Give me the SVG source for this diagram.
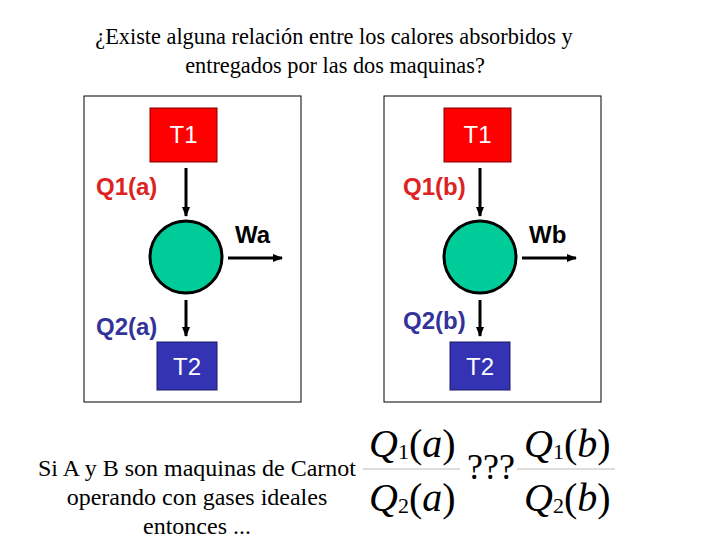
<svg xmlns="http://www.w3.org/2000/svg" width="720" height="540" viewBox="0 0 720 540">
<defs>
<marker id="ah" markerWidth="10" markerHeight="8" refX="9" refY="4" orient="auto" markerUnits="userSpaceOnUse">
<path d="M0,0 L10,4 L0,8 Z" fill="#000"/>
</marker>
<style>
.frame{fill:#fff;stroke:#000;stroke-width:1}
.hot{fill:#ff0000;stroke:#800000;stroke-width:1}
.cold{fill:#3333b3;stroke:#1a1a66;stroke-width:1}
.eng{fill:#00cc99;stroke:#000;stroke-width:3}
.arr{stroke:#000;stroke-width:3;fill:none;marker-end:url(#ah)}
.tw{font-family:"Liberation Sans",Arial,sans-serif;font-size:24px;fill:#fff;text-anchor:middle}
.q1{font-family:"Liberation Sans",Arial,sans-serif;font-size:24px;font-weight:bold;fill:#dd2222}
.q2{font-family:"Liberation Sans",Arial,sans-serif;font-size:24px;font-weight:bold;fill:#333399}
.w{font-family:"Liberation Sans",Arial,sans-serif;font-size:24px;font-weight:bold;fill:#000}
.tt{font-family:"Liberation Serif","Times New Roman",serif;font-size:22.3px;fill:#000;text-anchor:middle}
.nt{font-family:"Liberation Serif","Times New Roman",serif;font-size:24px;fill:#000;text-anchor:middle}
.m{font-family:"Liberation Serif","Times New Roman",serif;font-size:40px;fill:#000}
.mi{font-style:italic}
.sub{font-size:22px;font-style:normal}
.fl{stroke:#bbb;stroke-width:1}
</style>
</defs>

<g id="title">
<text class="tt" x="334" y="44">¿Existe alguna relación entre los calores absorbidos y</text>
<text class="tt" x="335" y="73">entregados por las dos maquinas?</text>
</g>

<g id="frameA"><rect class="frame" x="84" y="96" width="217" height="306"/></g>
<g id="frameB"><rect class="frame" x="384" y="96" width="217" height="306"/></g>

<g id="T1a"><rect class="hot" x="150" y="108" width="67" height="54"/><text class="tw" x="183.5" y="143">T1</text></g>
<g id="T2a"><rect class="cold" x="157" y="342" width="60" height="48"/><text class="tw" x="187" y="375">T2</text></g>
<g id="engA"><circle class="eng" cx="186" cy="257" r="36"/></g>

<g id="T1b"><rect class="hot" x="444" y="108" width="67" height="54"/><text class="tw" x="477.5" y="143">T1</text></g>
<g id="T2b"><rect class="cold" x="450" y="342" width="60" height="48"/><text class="tw" x="480" y="375">T2</text></g>
<g id="engB"><circle class="eng" cx="480" cy="257" r="36"/></g>

<g id="connectors">
<line class="arr" x1="186" y1="168" x2="186" y2="216"/>
<line class="arr" x1="186" y1="300" x2="186" y2="336"/>
<line class="arr" x1="228" y1="258" x2="282" y2="258"/>
<line class="arr" x1="480" y1="168" x2="480" y2="216"/>
<line class="arr" x1="480" y1="300" x2="480" y2="336"/>
<line class="arr" x1="522" y1="258" x2="576" y2="258"/>
</g>

<g id="labels">
<text class="q1" x="96" y="195">Q1(a)</text>
<text class="q2" x="96" y="335">Q2(a)</text>
<text class="w" x="235" y="243">Wa</text>
<text class="q1" x="403" y="195">Q1(b)</text>
<text class="q2" x="403" y="329">Q2(b)</text>
<text class="w" x="529" y="243">Wb</text>
</g>

<g id="note">
<text class="nt" x="197" y="476">Si A y B son maquinas de Carnot</text>
<text class="nt" x="197" y="505">operando con gases ideales</text>
<text class="nt" x="197" y="534">entonces ...</text>
</g>

<g id="formula">
<line class="fl" x1="363" y1="469" x2="460" y2="469"/>
<line class="fl" x1="517" y1="469" x2="615" y2="469"/>
<text class="m" x="369" y="457"><tspan class="mi">Q</tspan><tspan class="sub" dy="2">1</tspan><tspan dy="-2">(</tspan><tspan class="mi">a</tspan>)</text>
<text class="m" x="369" y="511"><tspan class="mi">Q</tspan><tspan class="sub" dy="2">2</tspan><tspan dy="-2">(</tspan><tspan class="mi">a</tspan>)</text>
<text class="m" x="467" y="479" style="font-size:36px">???</text>
<text class="m" x="524" y="457"><tspan class="mi">Q</tspan><tspan class="sub" dy="2">1</tspan><tspan dy="-2">(</tspan><tspan class="mi">b</tspan>)</text>
<text class="m" x="524" y="511"><tspan class="mi">Q</tspan><tspan class="sub" dy="2">2</tspan><tspan dy="-2">(</tspan><tspan class="mi">b</tspan>)</text>
</g>
</svg>
